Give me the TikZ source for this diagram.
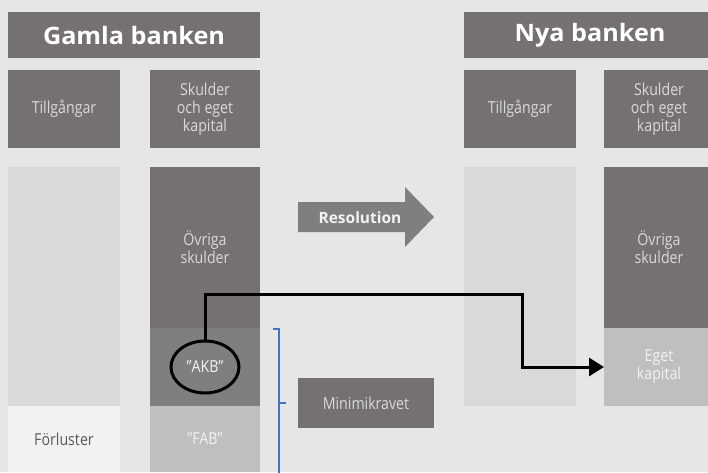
\documentclass[tikz,border=0pt]{standalone}
\usepackage{fontspec}
\setmainfont{Open Sans}
\newfontfamily\lightfont{Open Sans}[FakeStretch=0.86]
\newfontfamily\titlefont{Open Sans}[FakeStretch=1.05]
\usetikzlibrary{arrows.meta,shapes.geometric}
\definecolor{bg}{HTML}{E7E6E6}
\definecolor{dk}{HTML}{767171}
\definecolor{g50}{HTML}{7F7F7F}
\definecolor{g75}{HTML}{BFBFBF}
\definecolor{g85}{HTML}{D9D9D9}
\definecolor{g95}{HTML}{F2F2F2}
\definecolor{bl}{HTML}{4472C4}
\begin{document}
\begin{tikzpicture}[x=1pt,y=-1pt,
  box/.style={rectangle,inner sep=0pt,outer sep=0pt,align=center},
  title/.style={box,fill=dk,text=white,font=\titlefont\fontsize{24}{28}\selectfont\bfseries},
  head/.style={box,fill=dk,text=g85,font=\lightfont\fontsize{16.5}{18}\selectfont},
  lbl/.style={box,font=\lightfont\fontsize{16.5}{18}\selectfont}]
\useasboundingbox (0,0) rectangle (708,472);
\fill[bg] (0,0) rectangle (708,472);
% titles
\node[title,minimum width=252pt,minimum height=46pt] (gt) at (134,35) {Gamla banken};
\node[title,minimum width=252pt,minimum height=46pt] (nt) at (590,35) {Nya banken};
% column heads
\node[head,minimum width=112pt,minimum height=78pt] (gtill) at (64,109) {Tillgångar};
\node[head,minimum width=110pt,minimum height=78pt] (gsk) at (205,109) {Skulder\\och eget\\kapital};
\node[head,minimum width=112pt,minimum height=78pt] (ntill) at (520,109) {Tillgångar};
\node[head,minimum width=110pt,minimum height=78pt] (nsk) at (659,109) {Skulder\\och eget\\kapital};
% old bank balance
\node[box,fill=g85,minimum width=112pt,minimum height=239pt] (gas) at (64,286.5) {};
\node[lbl,fill=g95,text=black!65,minimum width=112pt,minimum height=66pt] (forl) at (64,439) {Förluster};
\node[lbl,fill=dk,text=g85,minimum width=110pt,minimum height=161pt] (gov) at (205,247.5) {Övriga\\skulder};
\node[box,fill=g50,minimum width=110pt,minimum height=78pt] (akb) at (205,367) {};
\node[lbl,fill=g75,text=g95,minimum width=110pt,minimum height=66pt] (fab) at (205,439) {”FAB”};
% new bank balance
\node[box,fill=g85,minimum width=112pt,minimum height=239pt] (nas) at (520,286.5) {};
\node[lbl,fill=dk,text=g85,minimum width=110pt,minimum height=161pt] (nov) at (659,247.5) {Övriga\\skulder};
\node[lbl,fill=g75,text=g95,minimum width=110pt,minimum height=78pt] (nek) at (659,367) {Eget\\kapital};
% resolution arrow
\fill[g50] (298,202) -- (405,202) -- (405,187) -- (434,217) -- (405,247) -- (405,232) -- (298,232) -- cycle;
\node[box,text=g95,font=\fontsize{15.5}{18}\selectfont\bfseries] (res) at (360,218) {Resolution};
% minimikravet
\node[lbl,fill=dk,text=g85,minimum width=136pt,minimum height=50pt] (min) at (366,403) {Minimikravet};
% bracket
\draw[bl,line width=1.5pt] (273,329) -- (279,329) -- (279,480);
\draw[bl,line width=1.5pt] (279,403) -- (286,403);
% AKB ellipse and connector
\node[ellipse,draw=black,line width=3pt,text=g95,minimum width=68pt,minimum height=52pt,inner sep=0pt,font=\lightfont\fontsize{16.5}{18}\selectfont] (akbell) at (205,367) {”AKB”};
\coordinate (c1) at (522,294);
\draw[black,line width=3pt,-{Triangle[length=15pt,width=18pt]}] (akbell.north) |- (c1) |- (nek.west);
\end{tikzpicture}
\end{document}
